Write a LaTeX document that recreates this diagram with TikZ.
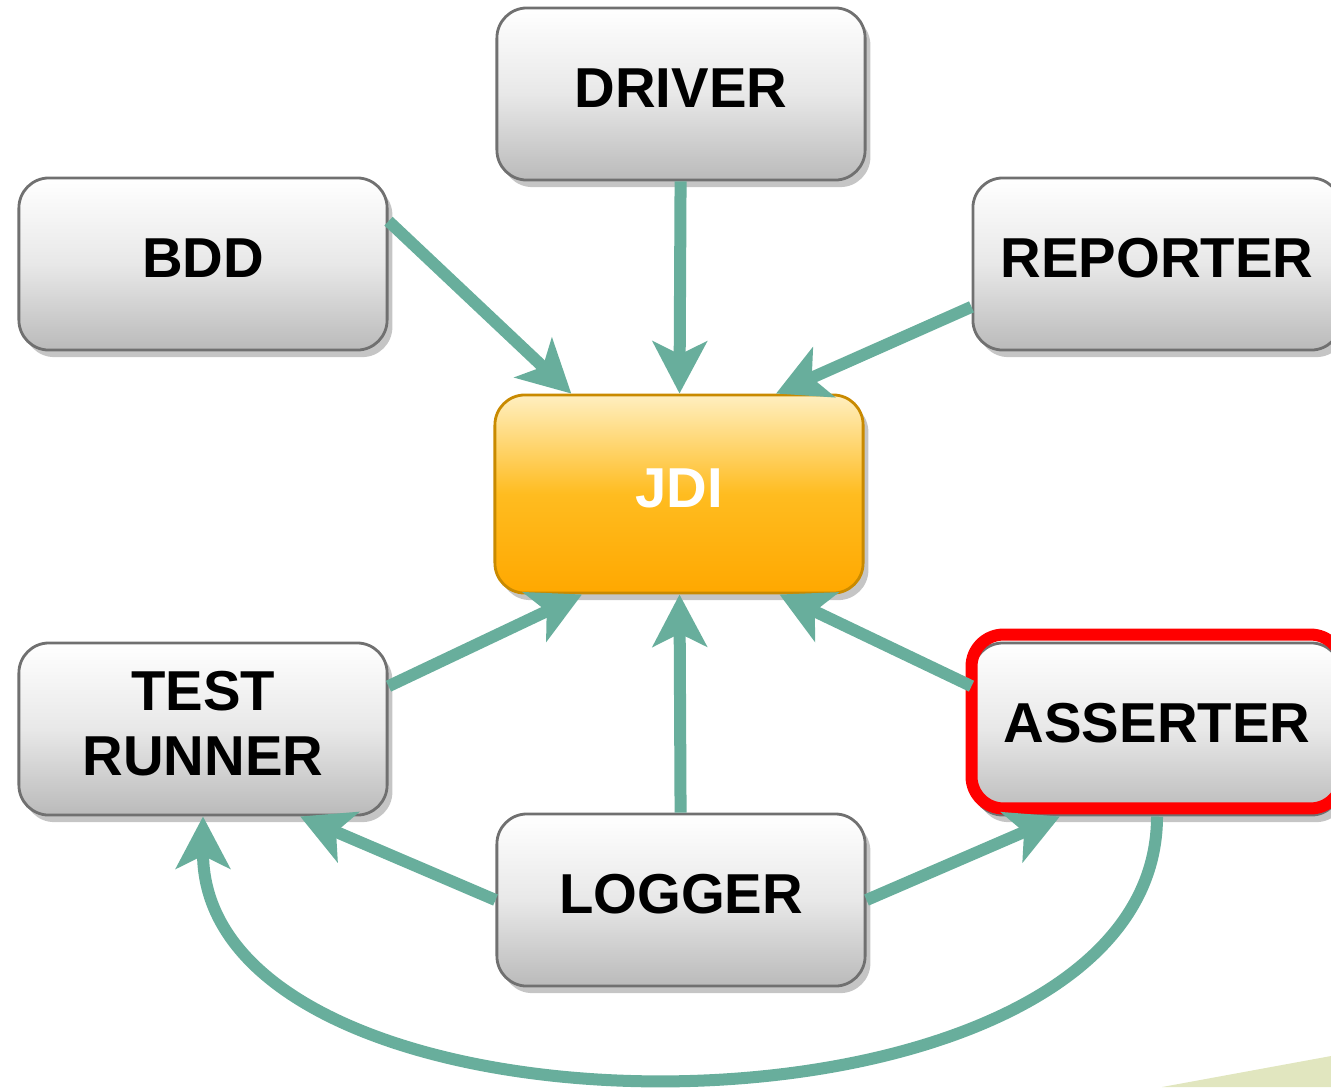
\documentclass[tikz,border=0pt]{standalone}
\usepackage{fontspec}
\setmainfont{Liberation Sans}
\usetikzlibrary{arrows.meta,shadows,positioning}
\definecolor{linkteal}{HTML}{68AE9C}
\definecolor{boxedge}{HTML}{707070}
\definecolor{jdiedge}{HTML}{C98A00}
\definecolor{jditop}{HTML}{FFEFC0}
\definecolor{jdimid}{HTML}{FFBC20}
\definecolor{jdibottom}{HTML}{FFA800}
\definecolor{markred}{HTML}{FF0000}
\definecolor{wedgegreen}{HTML}{E1E6BF}
\tikzset{
  module/.style={draw=boxedge,line width=0.8pt,rounded corners=0.3cm,
    minimum width=3.68cm,minimum height=1.72cm,align=center,text depth=0.12cm,
    top color=white,bottom color=black!27,middle color=black!9,
    font=\fontsize{16}{18.5}\selectfont\bfseries,
    drop shadow={shadow xshift=1.5pt,shadow yshift=-2pt,fill=black!45,opacity=0.5}},
  core/.style={module,minimum height=1.98cm,draw=jdiedge,
    top color=jditop,bottom color=jdibottom,middle color=jdimid,text=white},
  flow/.style={-{Stealth[length=0.52cm,width=0.54cm,inset=0.13cm]},color=linkteal,line width=0.12cm}
}
\begin{document}
\begin{tikzpicture}[x=0.01cm,y=-0.01cm]
\useasboundingbox (0,0) rectangle (1331,1087);
\clip (0,0) rectangle (1331,1087);
\fill[wedgegreen] (1162,1087) -- (1331,1056) -- (1331,1087) -- cycle;
\node[module] (driver) at (681,94) {DRIVER};
\node[module] (bdd) at (203,264) {BDD};
\node[module] (reporter) at (1157,264) {REPORTER};
\node[core] (jdi) at (679,494) {JDI};
\node[module] (runner) at (203,729) {TEST\\RUNNER};
\node[module] (asserter) at (1157,729) {ASSERTER};
\node[module] (logger) at (681,900) {LOGGER};
\draw[markred,line width=0.12cm,rounded corners=0.32cm]
  ([shift={(0,-7)}]asserter.north west) rectangle ([shift={(0,-8)}]asserter.south east);
\path[flow]
(driver) edge (jdi)
(bdd.13) edge (jdi.137)
(reporter.193) edge (jdi.46)
(runner.13) edge (jdi.226)
(logger) edge (jdi)
(asserter.167) edge (jdi.315)
(logger.west) edge (runner.318)
(logger.east) edge (asserter.222);
\draw[flow] (asserter.south) .. controls +(0,347) and +(0,347) .. (runner.south);
\end{tikzpicture}
\end{document}
